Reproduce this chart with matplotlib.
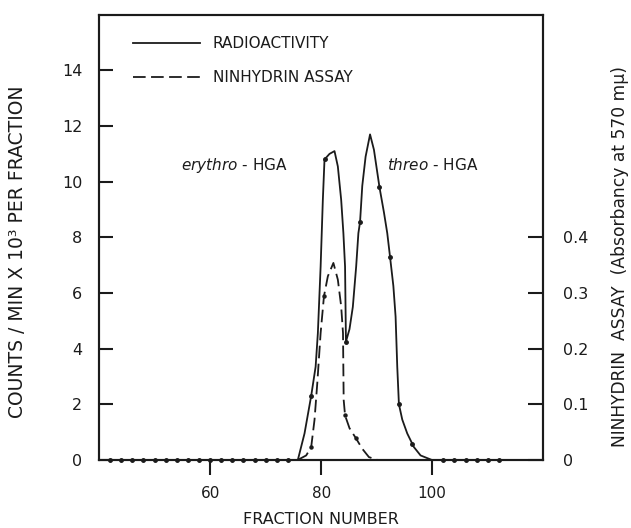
import matplotlib
matplotlib.use("Agg")
import matplotlib.pyplot as plt
from matplotlib.lines import Line2D

# radioactivity trace (counts/min x 10^3 per fraction)
rad_frac = [75.8, 77.0, 78.2, 79.0, 79.4, 79.9, 80.3, 80.6, 81.5, 82.4, 83.0, 83.6,
            84.0, 84.3, 84.46, 85.1, 85.7, 86.3, 86.7, 87.0, 87.4, 88.0, 88.8, 89.5,
            90.5, 91.3, 91.9, 92.4, 93.0, 93.4, 93.7, 94.0, 94.6, 95.5, 96.7, 97.9, 99.9]
rad_vals = [0.0, 0.95, 2.3, 3.35, 4.55, 6.95, 9.35, 10.8, 11.0, 11.1, 10.55, 9.35,
            8.15, 6.95, 4.25, 4.7, 5.5, 6.95, 8.15, 8.55, 9.85, 10.9, 11.7, 11.15,
            9.8, 8.9, 8.15, 7.3, 6.25, 5.15, 3.35, 2.0, 1.45, 0.95, 0.46, 0.16, 0.0]

# measured points drawn as dots on the radioactivity curve
rad_dot_frac = [78.2, 80.6, 84.46, 87.0, 90.5, 92.4, 94.0, 96.3]
rad_dot_vals = [2.3, 10.8, 4.25, 8.55, 9.8, 7.3, 2.0, 0.58]

# baseline fractions (zero counts)
base_frac = [42, 44, 46, 48, 50, 52, 54, 56, 58, 60, 62, 64, 66, 68, 70, 72, 74,
             102, 104, 106, 108, 110, 112]
base_vals = [0] * len(base_frac)

# ninhydrin assay (absorbancy at 570 mu)
nin_frac = [75.8, 77.3, 78.2, 78.8, 79.3, 79.9, 80.5, 81.2, 82.2, 83.0, 83.6, 83.93,
            84.05, 84.3, 85.1, 86.25, 87.4, 88.6, 90.1]
nin_vals = [0.0, 0.008, 0.023, 0.072, 0.138, 0.228, 0.294, 0.33, 0.354, 0.324, 0.276, 0.228,
            0.108, 0.08, 0.057, 0.039, 0.02, 0.005, 0.0]
nin_dot_frac = [78.2, 80.5, 84.3, 86.25]
nin_dot_vals = [0.023, 0.294, 0.08, 0.039]

left_ticks = [0, 2, 4, 6, 8, 10, 12, 14]
right_ticks = [0, 0.1, 0.2, 0.3, 0.4]
right_tick_labels = ["0", "0.1", "0.2", "0.3", "0.4"]
x_ticks = [60, 80, 100]

ink = "#1b1b1b"
fs = 11
plt.rcParams["font.family"] = ["DejaVu Sans"]

fig = plt.figure(figsize=(6.31, 5.28), dpi=100)
ax = fig.add_axes([0.157, 0.129, 0.704, 0.843])
ax.set_xlim(40, 120)
ax.set_ylim(0, 16)

dash = (0, (7, 3))

ax.plot(rad_frac, rad_vals, color=ink, lw=1.3, solid_joinstyle="round")
ax.plot(rad_dot_frac, rad_dot_vals, "o", color=ink, ms=2.5)
ax.plot(base_frac, base_vals, "o", color=ink, ms=2.5, clip_on=False)

ax2 = ax.twinx()
ax2.set_ylim(0, 0.8)
ax2.plot(nin_frac, nin_vals, color=ink, lw=1.3, linestyle=dash)
ax2.plot(nin_dot_frac, nin_dot_vals, "o", color=ink, ms=2.2)

for a in (ax, ax2):
    for s in a.spines.values():
        s.set_linewidth(1.5)
        s.set_color(ink)

ax.set_xticks(x_ticks)
ax.set_yticks(left_ticks)
ax.tick_params(axis="x", direction="out", length=11, width=1.5, pad=8,
               labelsize=fs, colors=ink)
ax.tick_params(axis="y", direction="in", length=10, width=1.5, pad=12,
               labelsize=fs + 0.5, colors=ink)
ax2.set_yticks(right_ticks)
ax2.set_yticklabels(right_tick_labels)
ax2.tick_params(axis="y", direction="in", length=11, width=1.5, pad=14,
                labelsize=fs + 0.5, colors=ink)

ax.set_xlabel("FRACTION NUMBER", fontsize=11.5, color=ink, labelpad=8)
ax.set_ylabel("COUNTS / MIN X 10³ PER FRACTION", fontsize=13.5, color=ink)
ax.yaxis.set_label_coords(-0.162, 0.467)
ax2.set_ylabel("NINHYDRIN  ASSAY  (Absorbancy at 570 mμ)", fontsize=12.3, color=ink)
ax2.yaxis.set_label_coords(1.153, 0.456)

ax.text(54.8, 10.6, r"$\mathit{erythro}$ - HGA", fontsize=fs, color=ink, va="center")
ax.text(91.8, 10.6, r"$\mathit{threo}$ - HGA", fontsize=fs, color=ink, va="center")

handles = [Line2D([], [], color=ink, lw=1.3),
           Line2D([], [], color=ink, lw=1.3, linestyle=dash)]
leg = ax.legend(handles, ["RADIOACTIVITY", "NINHYDRIN ASSAY"], loc="upper left",
                bbox_to_anchor=(0.077, 0.952), frameon=False, fontsize=fs,
                handlelength=4.4, handletextpad=0.8, labelspacing=1.25,
                borderpad=0, borderaxespad=0)
for t in leg.get_texts():
    t.set_color(ink)

fig.savefig("out.png", dpi=100, facecolor="white")
